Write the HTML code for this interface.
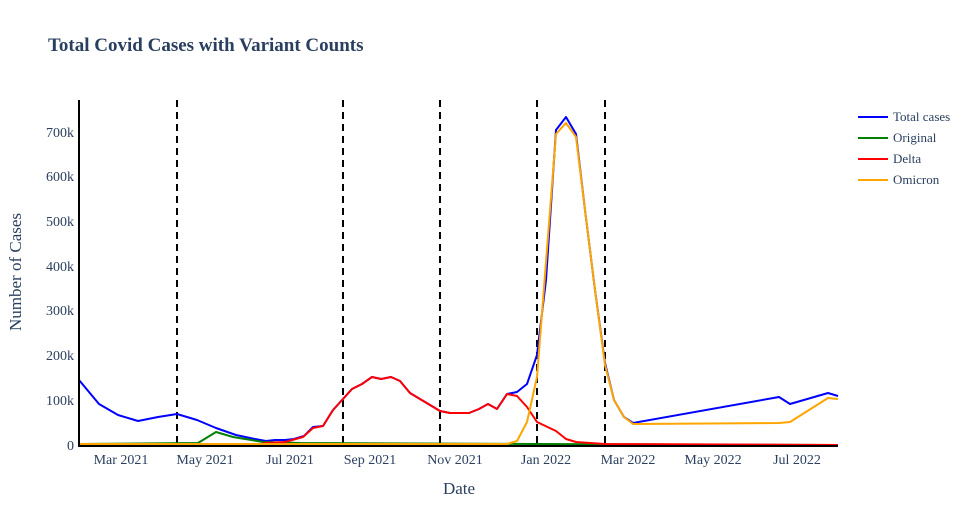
<!DOCTYPE html>
<html><head><meta charset="utf-8"><style>
body{margin:0;background:#fff}
svg text{font-family:"Liberation Serif",serif;fill:#2a3f5f}
</style></head><body>
<svg width="971" height="525" xmlns="http://www.w3.org/2000/svg">
<text x="48" y="51" font-size="19" font-weight="bold">Total Covid Cases with Variant Counts</text>
<g font-size="14" text-anchor="end">
<text x="74" y="450">0</text><text x="74" y="405">100k</text><text x="74" y="360">200k</text><text x="74" y="315">300k</text><text x="74" y="271">400k</text><text x="74" y="226">500k</text><text x="74" y="181">600k</text><text x="74" y="137">700k</text>
</g>
<g font-size="14" text-anchor="middle">
<text x="121" y="464">Mar 2021</text><text x="205" y="464">May 2021</text><text x="290" y="464">Jul 2021</text><text x="370" y="464">Sep 2021</text><text x="455" y="464">Nov 2021</text><text x="546" y="464">Jan 2022</text><text x="628" y="464">Mar 2022</text><text x="713" y="464">May 2022</text><text x="797" y="464">Jul 2022</text>
</g>
<text x="459" y="494" font-size="17" text-anchor="middle">Date</text>
<text transform="translate(21,272) rotate(-90)" font-size="17" text-anchor="middle">Number of Cases</text>
<g stroke="#000" stroke-width="2" stroke-dasharray="7,5">
<line x1="177" y1="100" x2="177" y2="445"/><line x1="343" y1="100" x2="343" y2="445"/><line x1="440" y1="100" x2="440" y2="445"/><line x1="537" y1="100" x2="537" y2="445"/><line x1="605" y1="100" x2="605" y2="445"/>
</g>
<g fill="none" stroke-width="2" stroke-linejoin="round">
<polyline stroke="#0000ff" points="79,380 99,404 118,415 138,421 158,417 177,414 197,420 216,428 236,435 255,439 266,441 275,440 285,440 294,439 304,436 313,427 323,426 333,410 343,399 352,389 362,384 372,377 381,379 391,377 400,381 410,393 420,399 430,405 440,411 450,413 459,413 469,413 479,409 488,404 497,409 507,394 517,392 527,384 537,355 546,280 556,130 566,117 576,134 585,210 595,290 605,363 614,400 624,417 633,423 779,397 790,404 828,393 838,396"/>
<polyline stroke="#008000" points="79,444 198,443 216,432 233,437 263,442 300,443 537,444 838,445"/>
<polyline stroke="#ff0000" points="263,443 285,442 303,437 313,428 323,426 333,410 343,399 352,389 362,384 372,377 381,379 391,377 400,381 410,393 420,399 430,405 440,411 450,413 459,413 469,413 479,409 488,404 497,409 507,394 517,396 527,407 537,422 556,431 566,439 576,442 605,444 838,445"/>
<polyline stroke="#ffa500" points="79,444 507,444 517,441 527,422 537,377 556,134 566,123 576,137 585,210 595,290 605,365 614,400 624,417 633,424 779,423 790,422 828,398 838,399"/>
</g>
<line x1="79" y1="100" x2="79" y2="447" stroke="#000" stroke-width="2"/>
<line x1="78" y1="446" x2="838" y2="446" stroke="#000" stroke-width="2"/>
<g stroke-width="2">
<line x1="858" y1="117" x2="888" y2="117" stroke="#0000ff"/>
<line x1="858" y1="138" x2="888" y2="138" stroke="#008000"/>
<line x1="858" y1="159" x2="888" y2="159" stroke="#ff0000"/>
<line x1="858" y1="180" x2="888" y2="180" stroke="#ffa500"/>
</g>
<g font-size="13">
<text x="893" y="121">Total cases</text><text x="893" y="142">Original</text><text x="893" y="163">Delta</text><text x="893" y="184">Omicron</text>
</g>
</svg>
</body></html>
